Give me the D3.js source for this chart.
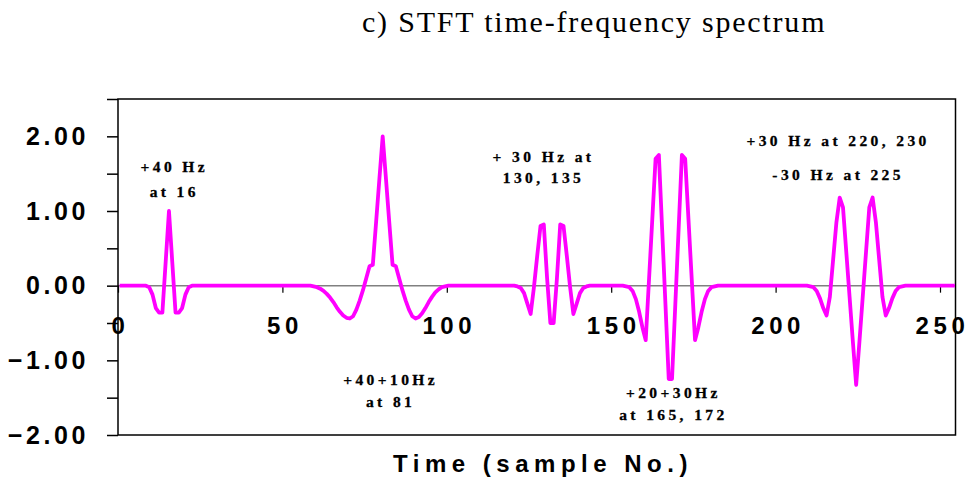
<!DOCTYPE html>
<html>
<head>
<meta charset="utf-8">
<script src="https://cdn.jsdelivr.net/npm/d3@7"></script>
<style>
  body { margin: 0; background: #fff; }
  svg { display: block; }
</style>
</head>
<body>
<script>
// DATA (sample number, amplitude), bursts only; flat zero in between
const burst16 = [[9,0],[10,-0.02],[11,-0.12],[12,-0.3],[13,-0.36],[14,-0.36],[15,0.32],[16,1.0],
  [17,0.32],[18,-0.36],[19,-0.36],[20,-0.3],[21,-0.12],[22,-0.02],[23,0]];
const burst81 = [[59,0],[60,-0.01],[61,-0.02],[62,-0.04],[63,-0.07],[64,-0.11],[65,-0.16],[66,-0.22],
  [67,-0.29],[68,-0.35],[69,-0.4],[70,-0.43],[71,-0.44],[72,-0.41],[73,-0.32],[74,-0.2],[75,-0.06],
  [76,0.1],[77,0.26],[78,0.28],[79,0.85],[80,1.43],[81,2.0],[82,1.43],[83,0.85],[84,0.28],[85,0.26],
  [86,0.1],[87,-0.06],[88,-0.2],[89,-0.32],[90,-0.41],[91,-0.44],[92,-0.42],[93,-0.37],[94,-0.3],
  [95,-0.22],[96,-0.15],[97,-0.09],[98,-0.05],[99,-0.02],[100,-0.01],[101,0]];
const burst130 = [[121,0],[122,-0.01],[123,-0.03],[124,-0.1],[125,-0.24],[126,-0.38],[127,-0.02],
  [128,0.4],[129,0.8],[130,0.82],[131,0.1],[132,-0.5],[133,-0.5],[134,0.1],[135,0.82],[136,0.8],
  [137,0.4],[138,-0.02],[139,-0.38],[140,-0.24],[141,-0.1],[142,-0.03],[143,-0.01],[144,0]];
const burst165 = [[154,0],[155,-0.01],[156,-0.02],[157,-0.07],[158,-0.18],[159,-0.35],[160,-0.56],
  [161,-0.73],[162,0.08],[163,0.89],[164,1.7],[165,1.75],[166,0.75],[167,-0.25],[168,-1.25],
  [169,-1.25],[170,-0.25],[171,0.75],[172,1.75],[173,1.7],[174,0.89],[175,0.08],[176,-0.73],
  [177,-0.56],[178,-0.35],[179,-0.18],[180,-0.07],[181,-0.02],[182,-0.01],[183,0]];
const burst225 = [[210,0],[211,-0.01],[212,-0.02],[213,-0.07],[214,-0.17],[215,-0.3],[216,-0.4],
  [217,-0.15],[218,0.35],[219,0.85],[220,1.18],[221,1.05],[222,0.45],[223,-0.15],[224,-0.75],
  [225,-1.33],[226,-0.75],[227,-0.15],[228,0.45],[229,1.05],[230,1.18],[231,0.85],[232,0.35],
  [233,-0.15],[234,-0.4],[235,-0.3],[236,-0.17],[237,-0.07],[238,-0.02],[239,-0.01],[240,0]];
const signalStart = [1, 0];
const signalEnd = [255, 0];

const yTicks = [-2, -1.5, -1, -0.5, 0, 0.5, 1, 1.5, 2, 2.5];
const yLabelTicks = [-2, -1, 0, 1, 2];
const xTicks = [0, 50, 100, 150, 200, 250];

const notes = [
  { x: 16.6, lines: [["+40 Hz", 1.52], ["at 16", 1.19]] },
  { x: 82.4, lines: [["+40+10Hz", -1.33], ["at 81", -1.62]] },
  { x: 128.9, lines: [["+ 30 Hz at", 1.66], ["130, 135", 1.38]] },
  { x: 168.4, lines: [["+20+30Hz", -1.5], ["at 165, 172", -1.8]] },
  { x: 218.5, lines: [["+30 Hz at 220, 230", 1.87], ["-30 Hz at 225", 1.42]] },
];

const titleText = "c) STFT time-frequency spectrum";
const xTitle = "Time (sample No.)";

// LAYOUT
const width = 968;
const height = 485;
const plot = { left: 118, right: 955.5, top: 99, bottom: 435 };

const svg = d3.select("body").append("svg")
  .attr("width", width)
  .attr("height", height);

const xScale = d3.scaleLinear().domain([0, 255]).range([plot.left, plot.left + 255 * 3.288]);
const yScale = d3.scaleLinear().domain([-2, 2.5]).range([plot.bottom, plot.top]);

// zero line
svg.append("line")
  .attr("x1", plot.left).attr("x2", plot.right)
  .attr("y1", yScale(0)).attr("y2", yScale(0))
  .attr("stroke", "#808080").attr("stroke-width", 1.5);

// frame
svg.append("rect")
  .attr("x", plot.left).attr("y", plot.top)
  .attr("width", plot.right - plot.left).attr("height", plot.bottom - plot.top)
  .attr("fill", "none").attr("stroke", "#000").attr("stroke-width", 1.5);

// y axis
const yAxis = d3.axisLeft(yScale)
  .tickValues(yTicks)
  .tickSize(11)
  .tickPadding(18)
  .tickFormat((d) => yLabelTicks.includes(d) ? d3.format(".2f")(d) : "");

const yG = svg.append("g")
  .attr("transform", `translate(${plot.left},0)`)
  .call(yAxis);
yG.select(".domain").remove();
yG.selectAll(".tick line").attr("stroke", "#000").attr("stroke-width", 1.5);
yG.selectAll(".tick text")
  .attr("fill", "#000")
  .style("font-family", "'Liberation Sans', Arial, sans-serif")
  .style("font-weight", "bold")
  .style("font-size", "25px")
  .style("letter-spacing", "3.6px");

// x axis on the zero line
const xAxis = d3.axisBottom(xScale)
  .tickValues(xTicks)
  .tickSize(7)
  .tickPadding(24)
  .tickFormat((d) => d);

const xG = svg.append("g")
  .attr("transform", `translate(0,${yScale(0)})`)
  .call(xAxis);
xG.select(".domain").remove();
xG.selectAll(".tick line").attr("stroke", "#000").attr("stroke-width", 1.2);
xG.selectAll(".tick text")
  .attr("fill", "#000")
  .attr("dx", "2px")
  .style("font-family", "'Liberation Sans', Arial, sans-serif")
  .style("font-weight", "bold")
  .style("font-size", "24px")
  .style("letter-spacing", "4.6px");

// signal
const signal = [signalStart, ...burst16, ...burst81, ...burst130, ...burst165, ...burst225, signalEnd];
const line = d3.line()
  .x((d) => xScale(d[0] - 0.5))
  .y((d) => yScale(d[1]));

svg.append("path")
  .datum(signal)
  .attr("d", line)
  .attr("fill", "none")
  .attr("stroke", "#ff00ff")
  .attr("stroke-width", 3.8)
  .attr("stroke-linejoin", "round");

// annotations
const noteG = svg.append("g")
  .style("font-family", "'Liberation Serif', 'Times New Roman', serif")
  .style("font-weight", "bold")
  .style("font-size", "15.5px")
  .style("letter-spacing", "3.4px");

notes.forEach((n) => {
  n.lines.forEach(([txt, v]) => {
    noteG.append("text")
      .attr("x", xScale(n.x) + 1.7)
      .attr("y", yScale(v))
      .attr("text-anchor", "middle")
      .attr("fill", "#000")
      .attr("stroke", "#000")
      .attr("stroke-width", 0.3)
      .text(txt);
  });
});

// titles
svg.append("text")
  .attr("x", 362)
  .attr("y", 32)
  .style("font-family", "'Liberation Serif', 'Times New Roman', serif")
  .style("font-size", "30px")
  .style("letter-spacing", "1.8px")
  .attr("fill", "#000")
  .text(titleText);

svg.append("text")
  .attr("x", 543)
  .attr("y", 472)
  .attr("text-anchor", "middle")
  .style("font-family", "'Liberation Sans', Arial, sans-serif")
  .style("font-weight", "bold")
  .style("font-size", "24px")
  .style("letter-spacing", "5.5px")
  .attr("fill", "#000")
  .text(xTitle);
</script>
</body>
</html>
